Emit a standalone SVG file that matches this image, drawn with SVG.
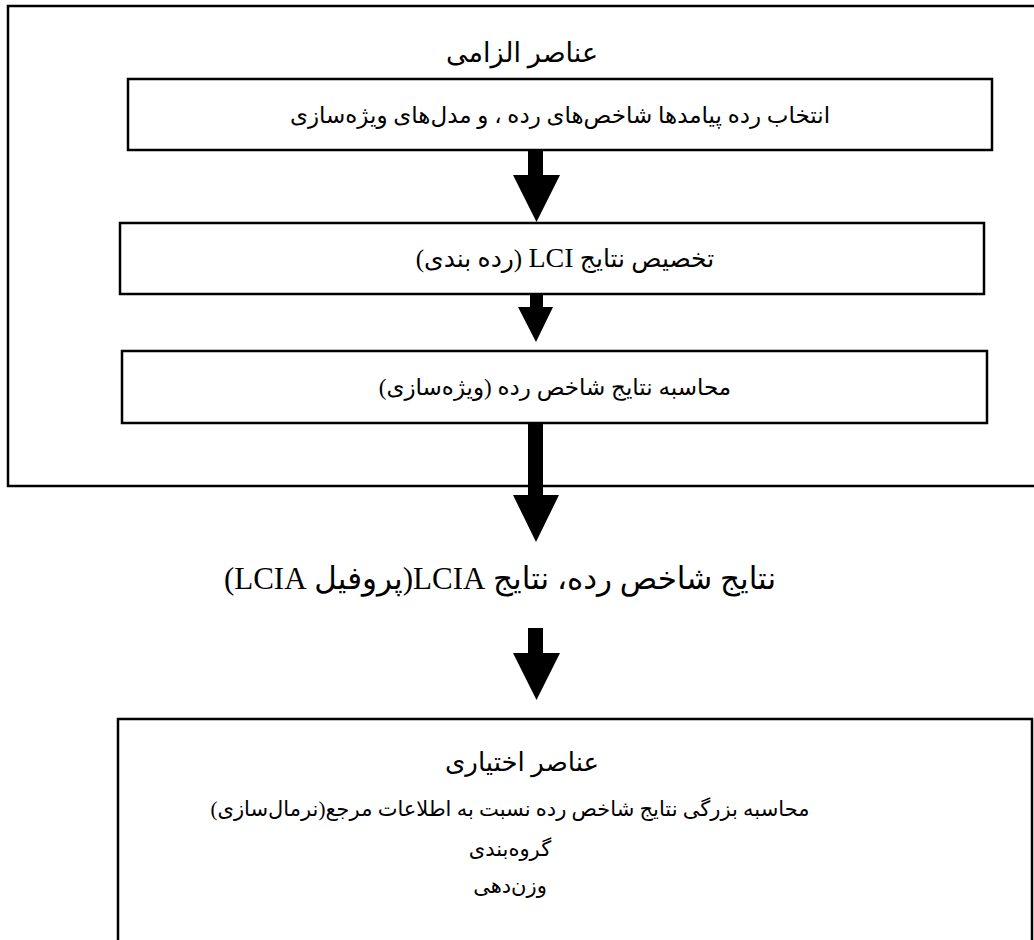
<svg xmlns="http://www.w3.org/2000/svg" width="1034" height="940" viewBox="0 0 1034 940">
<style>
.box{fill:#fff;stroke:#000;stroke-width:2.5}
.t{font-family:"Liberation Serif","DejaVu Sans",serif;fill:#000;text-anchor:middle;direction:rtl}
.arrow{fill:#000;stroke:none}
</style>
<rect width="1034" height="940" fill="#fff"/>
<g id="outer-mandatory">
<rect class="box" x="8" y="6" width="1040" height="480"/>
<text class="t" x="522" y="62" font-size="27">عناصر الزامی</text>
</g>
<g id="box1">
<rect class="box" x="128" y="79" width="864" height="71"/>
<text class="t" x="560" y="123" font-size="23">انتخاب رده پیامدها شاخص‌های رده ، و مدل‌های ویژه‌سازی</text>
</g>
<g id="box2">
<rect class="box" x="120" y="223" width="864" height="71"/>
<text class="t" x="565" y="267" font-size="25">تخصیص نتایج  <tspan font-size="28">LCI</tspan> (رده بندی)</text>
</g>
<g id="box3">
<rect class="box" x="122" y="351" width="865" height="72"/>
<text class="t" x="555" y="395" font-size="23">محاسبه نتایج شاخص رده (ویژه‌سازی)</text>
</g>
<g id="result">
<text class="t" x="500" y="589" font-size="31">نتایج شاخص رده، نتایج LCIA(پروفیل LCIA)</text>
</g>
<g id="outer-optional">
<rect class="box" x="118" y="719" width="914" height="240"/>
<text class="t" x="522" y="771" font-size="26">عناصر اختیاری</text>
<text class="t" x="510" y="816" font-size="21">محاسبه بزرگی نتایج شاخص رده نسبت به اطلاعات مرجع(نرمال‌سازی)</text>
<text class="t" x="510" y="856" font-size="21">گروه‌بندی</text>
<text class="t" x="510" y="893" font-size="21">وزن‌دهی</text>
</g>
<g id="connectors">
<path class="arrow" d="M528,150 H543 V175 H560 L536.5,222 L513,175 H528 Z"/>
<path class="arrow" d="M530,294 H543 V307 H553 L536,342 L518,307 H530 Z"/>
<path class="arrow" d="M528,423 H543 V495 H559 L536,542 L513,495 H528 Z"/>
<path class="arrow" d="M528,628 H543 V653 H560 L536.5,700 L513,653 H528 Z"/>
</g>
</svg>
